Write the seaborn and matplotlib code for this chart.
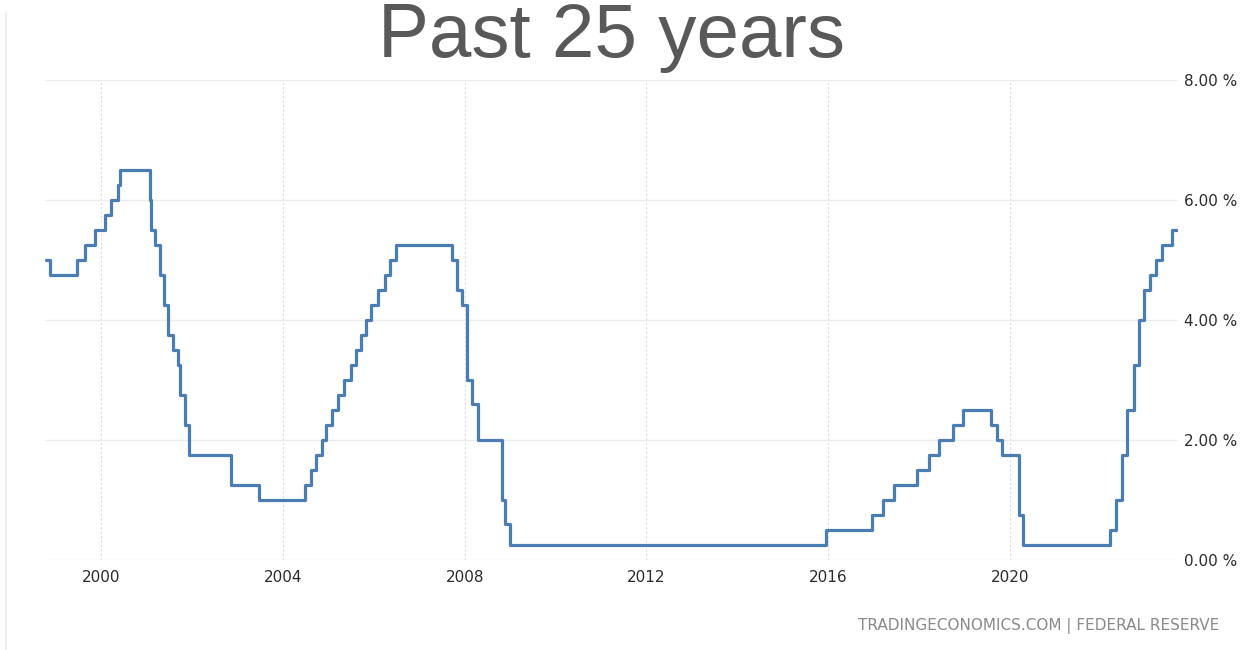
import matplotlib
matplotlib.use("Agg")
import matplotlib.pyplot as plt
import matplotlib.dates as mdates
from matplotlib.lines import Line2D
import pandas as pd
import seaborn as sns

# Federal funds target rate (upper bound), one entry per change
change_dates = [
    "1998-10-15", "1998-11-17", "1999-06-20", "1999-08-22", "1999-11-16",
    "2000-02-02", "2000-03-21", "2000-05-16", "2000-06-01",
    "2001-01-30", "2001-02-06", "2001-03-10", "2001-04-20", "2001-05-20",
    "2001-06-25", "2001-08-01", "2001-09-10", "2001-09-25", "2001-11-06",
    "2001-12-10", "2002-11-06", "2003-06-25",
    "2004-06-30", "2004-08-10", "2004-09-21", "2004-11-10", "2004-12-14",
    "2005-02-02", "2005-03-22", "2005-05-03", "2005-06-30", "2005-08-09",
    "2005-09-20", "2005-11-01", "2005-12-13", "2006-01-31", "2006-03-28",
    "2006-05-10", "2006-06-29",
    "2007-09-18", "2007-10-31", "2007-12-11", "2008-01-22", "2008-03-01",
    "2008-04-15", "2008-10-26", "2008-11-20", "2008-12-31",
    "2015-12-16", "2016-12-14", "2017-03-15", "2017-06-14", "2017-12-13",
    "2018-03-21", "2018-06-13", "2018-09-26", "2018-12-19",
    "2019-07-31", "2019-09-18", "2019-10-30", "2020-03-15", "2020-04-15",
    "2022-03-16", "2022-05-04", "2022-06-15", "2022-07-27", "2022-09-21",
    "2022-11-02", "2022-12-14", "2023-02-01", "2023-03-22", "2023-05-03",
    "2023-07-26", "2023-09-01",
]
rates = [
    5.00, 4.75, 5.00, 5.25, 5.50,
    5.75, 6.00, 6.25, 6.50,
    6.00, 5.50, 5.25, 4.75, 4.25,
    3.75, 3.50, 3.25, 2.75, 2.25,
    1.75, 1.25, 1.00,
    1.25, 1.50, 1.75, 2.00, 2.25,
    2.50, 2.75, 3.00, 3.25, 3.50,
    3.75, 4.00, 4.25, 4.50, 4.75,
    5.00, 5.25,
    5.00, 4.50, 4.25, 3.00, 2.60,
    2.00, 1.00, 0.60, 0.25,
    0.50, 0.75, 1.00, 1.25, 1.50,
    1.75, 2.00, 2.25, 2.50,
    2.25, 2.00, 1.75, 0.75, 0.25,
    0.50, 1.00, 1.75, 2.50, 3.25,
    4.00, 4.50, 4.75, 5.00, 5.25,
    5.50, 5.50,
]

year_ticks = [2000, 2004, 2008, 2012, 2016, 2020]
rate_ticks = [0, 2, 4, 6, 8]

title_text = "Past 25 years"
source_text = "TRADINGECONOMICS.COM | FEDERAL RESERVE"

df = pd.DataFrame({"date": pd.to_datetime(change_dates), "rate": rates})

sns.set_theme(style="white")
plt.rcParams["font.family"] = ["DejaVu Sans"]

W, H = 1241, 650
fig = plt.figure(figsize=(W / 100, H / 100), dpi=100)
fig.patch.set_facecolor("white")

ax_left, ax_right, ax_top, ax_bottom = 45, 1178, 80, 560
ax = fig.add_axes([ax_left / W, 1 - ax_bottom / H,
                   (ax_right - ax_left) / W, (ax_bottom - ax_top) / H])
ax.set_facecolor("white")

sns.lineplot(data=df, x="date", y="rate", ax=ax, drawstyle="steps-post",
             color="#4a7db3", linewidth=2.3, zorder=3)

ax.set_xlim(pd.Timestamp("1998-10-07"), pd.Timestamp("2023-09-12"))
ax.set_ylim(0, 8)

ax.set_xticks([mdates.date2num(pd.Timestamp(f"{y}-01-01")) for y in year_ticks])
ax.set_xticklabels([str(y) for y in year_ticks])
ax.set_yticks(rate_ticks)
ax.set_yticklabels([f"{v:.2f} %" for v in rate_ticks])
ax.yaxis.tick_right()
ax.tick_params(axis="x", length=0, pad=7, labelsize=11, labelcolor="#2b2b2b")
ax.tick_params(axis="y", length=0, pad=4, labelsize=11, labelcolor="#2b2b2b")
ax.set_xlabel("")
ax.set_ylabel("")

ax.grid(False)
ax.yaxis.grid(True, color="#ececec", linewidth=1.0)
ax.xaxis.grid(True, color="#dcdcdc", linewidth=0.8, linestyle=(0, (2, 2)))
for s in ax.spines.values():
    s.set_visible(False)

fig.text(612 / W, 1 - 57 / H, title_text, ha="center", va="baseline",
         fontsize=55, color="#595959", family=["Liberation Sans", "DejaVu Sans"])
fig.text(1219 / W, 1 - 626 / H, source_text, ha="right", va="center",
         fontsize=11, color="#8a8a8a")

# faint frame edge on the left
fig.add_artist(Line2D([6 / W, 6 / W], [0, 1 - 12 / H], transform=fig.transFigure,
                      color="#ececec", linewidth=1.2))

fig.savefig("out.png", dpi=100, facecolor="white")
